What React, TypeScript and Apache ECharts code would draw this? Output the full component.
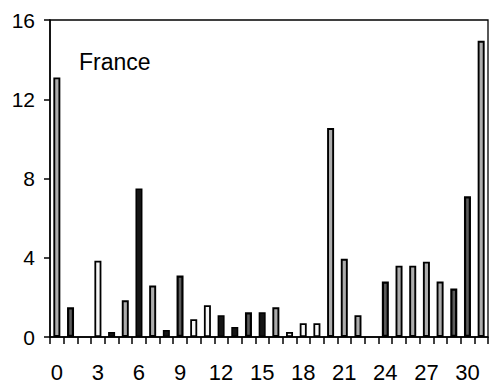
import React, { useEffect, useRef } from "react";
import * as echarts from "echarts";

// Day index 0..31 along the x axis
const days: string[] = Array.from({ length: 32 }, (_, i) => String(i));

// Bar heights per day
const values: number[] = [
  13.1, 1.5, 0, 3.85, 0.25, 1.85, 7.5, 2.6, 0.35, 3.1,
  0.9, 1.6, 1.1, 0.5, 1.25, 1.25, 1.5, 0.25, 0.7, 0.7,
  10.55, 3.95, 1.1, 0, 2.8, 3.6, 3.6, 3.8, 2.8, 2.45,
  7.1, 14.95,
];

// Group each day belongs to (drives the bar shading)
const groups: string[] = [
  "L", "D", "L", "W", "K", "L", "K", "L", "K", "D",
  "W", "W", "K", "K", "D", "K", "L", "W", "W", "W",
  "L", "L", "L", "L", "D", "L", "L", "L", "L", "D",
  "D", "L",
];

const yTicks: number[] = [0, 4, 8, 12, 16];

const groupStyle: Record<string, { color: string; borderWidth: number }> = {
  W: { color: "#f7f7f7", borderWidth: 1.8 },
  L: { color: "#acacac", borderWidth: 1.9 },
  D: { color: "#5c5c5c", borderWidth: 2.2 },
  K: { color: "#151515", borderWidth: 1.5 },
};

export default function App() {
  const ref = useRef<HTMLDivElement>(null);

  useEffect(() => {
    if (!ref.current) return;
    const chart = echarts.init(ref.current, null, { renderer: "svg" });
    const font = "'Liberation Sans', Arial, sans-serif";

    chart.setOption({
      animation: false,
      backgroundColor: "#ffffff",
      grid: {
        left: 50,
        right: 9,
        top: 20,
        bottom: 51,
        show: true,
        borderColor: "#000",
        borderWidth: 1.3,
      },
      graphic: [
        {
          type: "text",
          left: 79,
          top: 50,
          style: {
            text: "France",
            font: `23px ${font}`,
            fill: "#000",
          },
        },
      ],
      xAxis: {
        type: "category",
        data: days,
        boundaryGap: true,
        axisLine: { lineStyle: { color: "#000", width: 1.5 } },
        axisTick: {
          show: true,
          alignWithLabel: false,
          interval: 0,
          length: 7,
          lineStyle: { color: "#000", width: 1.5 },
        },
        axisLabel: {
          interval: 2,
          margin: 24,
          color: "#000",
          fontSize: 22,
          fontFamily: font,
        },
        splitLine: { show: false },
      },
      yAxis: {
        type: "value",
        min: yTicks[0],
        max: yTicks[yTicks.length - 1],
        interval: 4,
        axisLine: { show: true, lineStyle: { color: "#000", width: 1.5 } },
        axisTick: {
          show: true,
          inside: false,
          length: 6,
          lineStyle: { color: "#000", width: 1.5 },
        },
        axisLabel: {
          margin: 15,
          color: "#000",
          fontSize: 21,
          fontFamily: font,
        },
        splitLine: { show: false },
      },
      series: [
        {
          type: "bar",
          barWidth: 7,
          data: values.map((v, i) => ({
            value: v,
            itemStyle: {
              color: groupStyle[groups[i]].color,
              borderColor: "#000",
              borderWidth: v > 0 ? groupStyle[groups[i]].borderWidth : 0,
            },
          })),
        },
      ],
    });

    return () => chart.dispose();
  }, []);

  return (
    <div
      ref={ref}
      style={{ position: "absolute", left: 0, top: 0, width: 497, height: 388 }}
    />
  );
}
